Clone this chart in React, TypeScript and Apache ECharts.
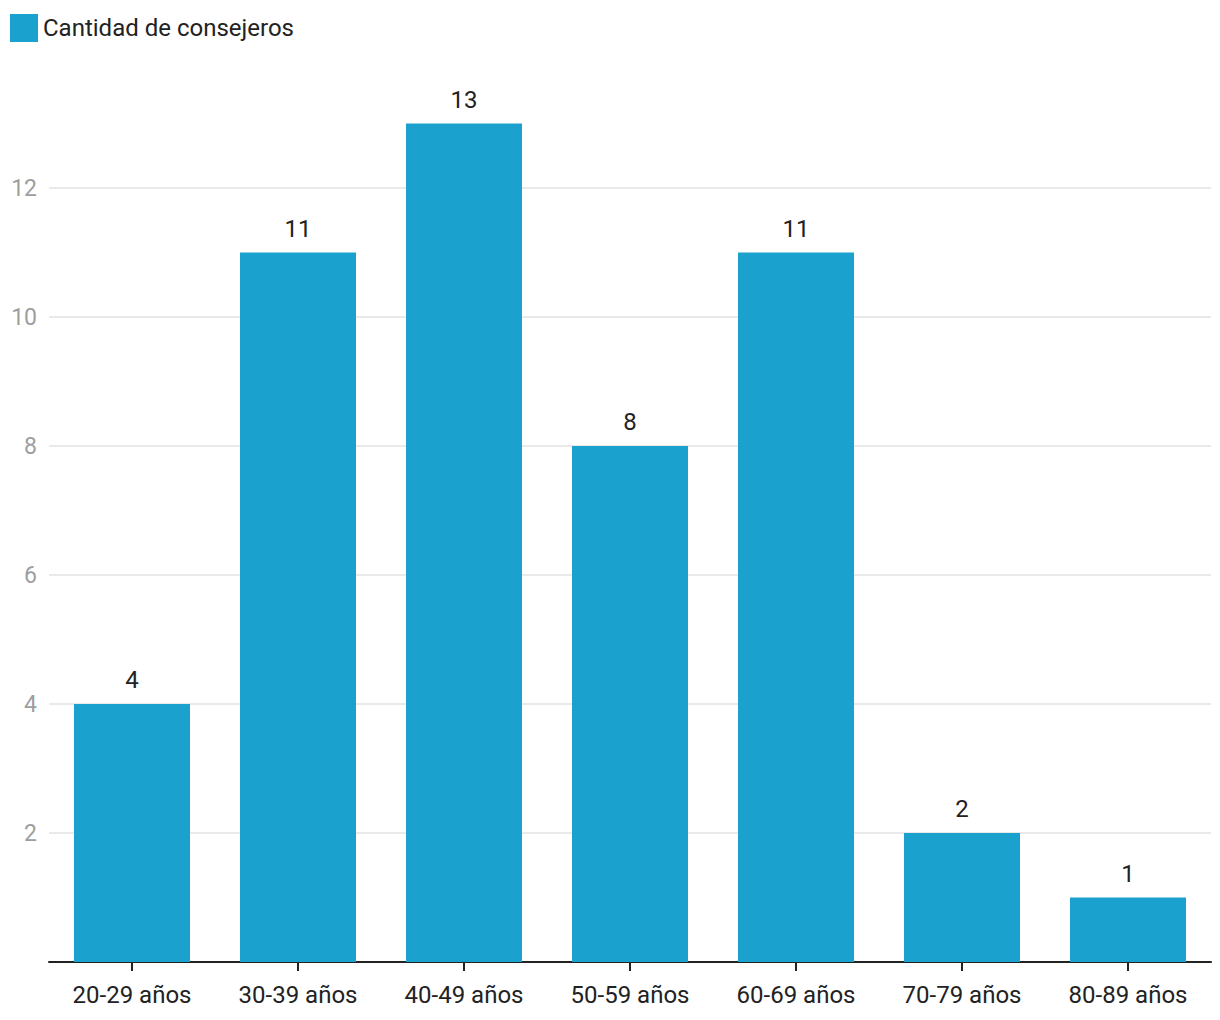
import React, { useEffect, useRef } from "react";
import * as echarts from "echarts";

const categories = ["20-29 años", "30-39 años", "40-49 años", "50-59 años", "60-69 años", "70-79 años", "80-89 años"];
const values = [4, 11, 13, 8, 11, 2, 1];
const seriesName = "Cantidad de consejeros";

export default function App() {
  const ref = useRef<HTMLDivElement>(null);
  useEffect(() => {
    const chart = echarts.init(ref.current!, null, { renderer: "svg" });
    chart.setOption({
      animation: false,
      textStyle: { fontFamily: "Roboto" },
      legend: {
        left: 10,
        top: 14,
        padding: 0,
        itemWidth: 28,
        itemHeight: 28,
        icon: "rect",
        textStyle: { fontSize: 24, color: "#222", fontFamily: "Roboto" },
        data: [seriesName],
      },
      grid: { left: 49, right: 9, top: 59, bottom: 58, containLabel: false },
      xAxis: {
        type: "category",
        data: categories,
        axisLine: { lineStyle: { color: "#222", width: 2 } },
        axisTick: { show: true, alignWithLabel: true, length: 9, lineStyle: { color: "#222", width: 2 } },
        axisLabel: { fontSize: 24, color: "#222", margin: 21, fontFamily: "Roboto" },
      },
      yAxis: {
        type: "value",
        min: 0,
        max: 14,
        interval: 2,
        axisLine: { show: false },
        axisTick: { show: false },
        axisLabel: {
          fontSize: 23,
          color: "#9e9e9e",
          margin: 12,
          showMinLabel: false,
          showMaxLabel: false,
          fontFamily: "Roboto",
        },
        splitLine: { show: true, showMaxLine: false, showMinLine: false, lineStyle: { color: "#e2e2e2", width: 1.5 } },
      },
      series: [
        {
          name: seriesName,
          type: "bar",
          data: values,
          barWidth: 116,
          itemStyle: { color: "#1aa1cd" },
          label: {
            show: true,
            position: "top",
            distance: 12,
            fontSize: 24,
            color: "#222",
            fontFamily: "Roboto",
          },
        },
      ],
    });
    return () => chart.dispose();
  }, []);
  return <div ref={ref} style={{ position: "absolute", left: 0, top: 0, width: 1220, height: 1020 }} />;
}
